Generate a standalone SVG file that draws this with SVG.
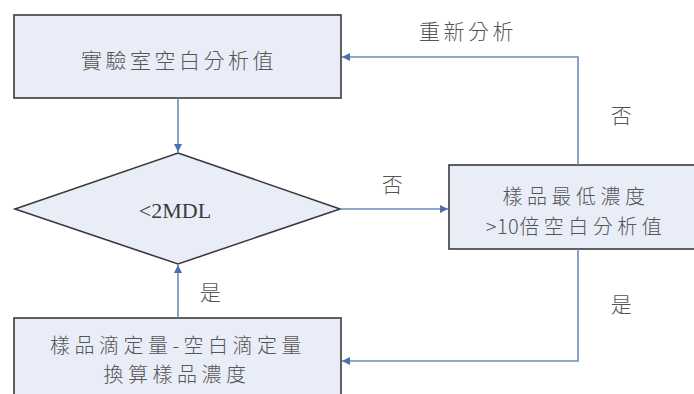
<svg xmlns="http://www.w3.org/2000/svg" width="694" height="394" viewBox="0 0 694 394">
<style>
.node{fill:#e9edf7;stroke:#3a3a3a;stroke-width:1.6}
.t{font-family:"Noto Sans CJK TC","Noto Sans CJK SC",sans-serif;font-size:21px;font-weight:300;letter-spacing:3.5px;fill:#555555;text-anchor:middle;dominant-baseline:central}
.m{font-size:20px;letter-spacing:4.5px}
.n{letter-spacing:0.5px}
.tl{font-family:"Liberation Serif","Noto Sans CJK TC",serif;font-size:22px;fill:#3a3a3a;text-anchor:middle;dominant-baseline:central}
.c{fill:none;stroke:#6f8db8;stroke-width:1.6}
</style>
<defs>
<marker id="ah" viewBox="0 0 10 10" refX="10" refY="5" markerWidth="8" markerHeight="8" markerUnits="userSpaceOnUse" orient="auto"><path d="M0,0 L10,5 L0,10 z" fill="#4a6fb0"/></marker>
</defs>
<rect width="694" height="394" fill="#ffffff"/>
<g id="n1"><rect class="node" x="14" y="15" width="327" height="83"/><text class="t" x="179" y="59">實驗室空白分析值</text></g>
<g id="n2"><polygon class="node" points="178,153 340,209 178,264 15,209"/><text class="tl" x="175" y="210">&lt;2MDL</text></g>
<g id="n3"><rect class="node" x="449" y="165" width="260" height="84"/><text class="t m" x="576" y="195">樣品最低濃度</text><text class="t m" x="576" y="225"><tspan class="n">&gt;10</tspan>倍空白分析值</text></g>
<g id="n4"><rect class="node" x="14" y="318" width="327" height="90"/><text class="t m" x="178" y="344">樣品滴定量-空白滴定量</text><text class="t m" x="177" y="373">換算樣品濃度</text></g>
<g id="connectors">
<line class="c" x1="178" y1="98" x2="178" y2="152" marker-end="url(#ah)"/>
<line class="c" x1="340" y1="209" x2="448" y2="209" marker-end="url(#ah)"/>
<polyline class="c" points="578,165 578,57 342,57" marker-end="url(#ah)"/>
<polyline class="c" points="578,249 578,361 342,361" marker-end="url(#ah)"/>
<line class="c" x1="178" y1="318" x2="178" y2="265" marker-end="url(#ah)"/>
<text class="t" x="468" y="30">重新分析</text>
<text class="t" x="623" y="114">否</text>
<text class="t" x="394" y="183">否</text>
<text class="t" x="623" y="303">是</text>
<text class="t" x="212" y="291">是</text>
</g>
</svg>
